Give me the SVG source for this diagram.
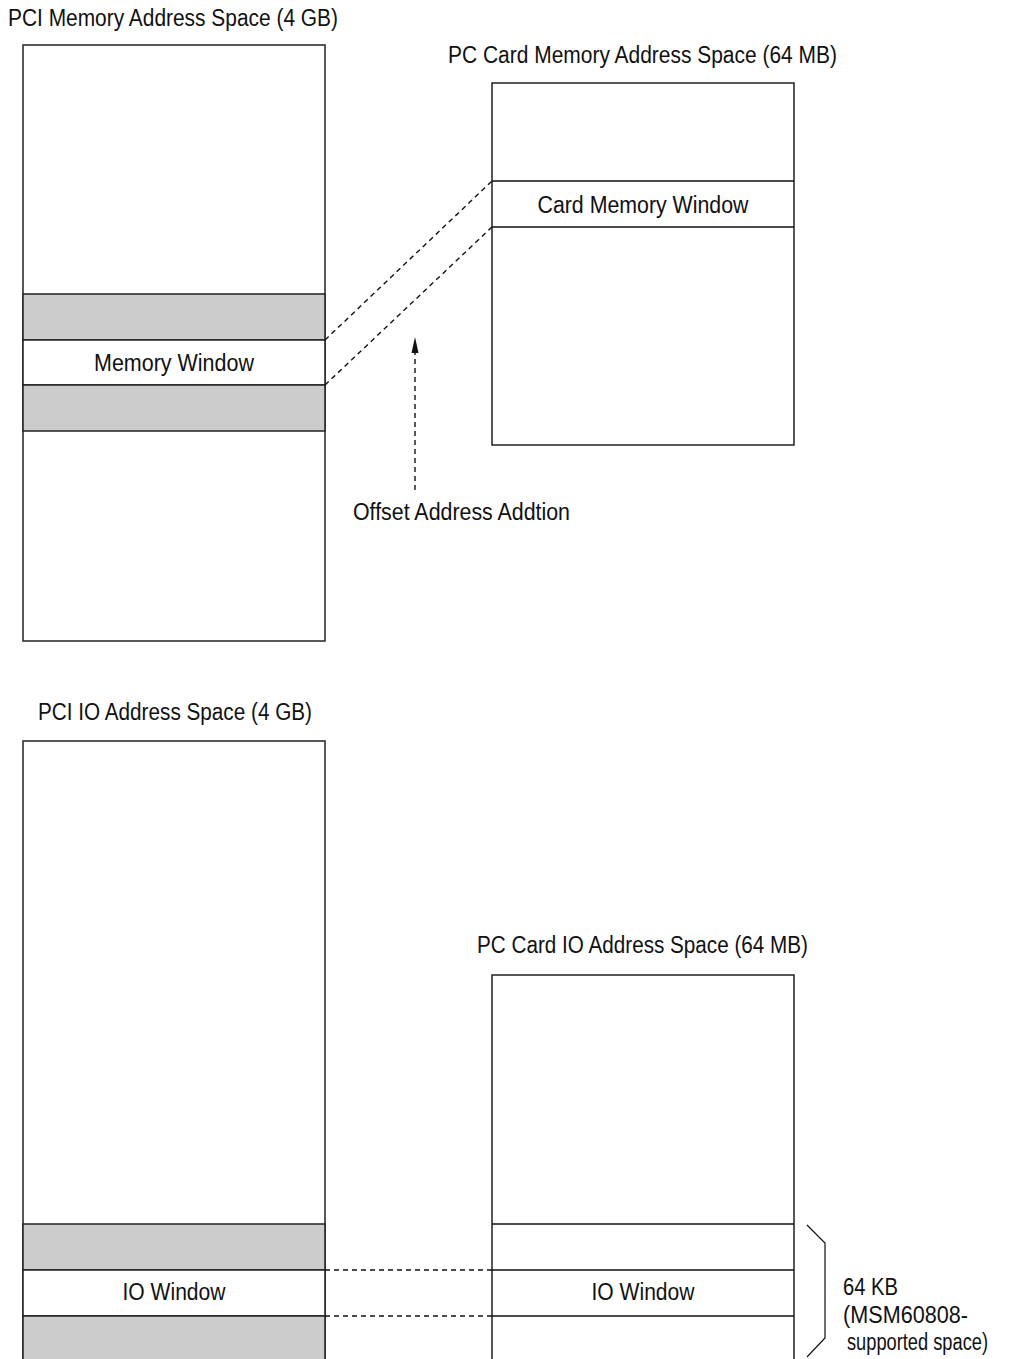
<svg xmlns="http://www.w3.org/2000/svg" width="1023" height="1359" viewBox="0 0 1023 1359">
<defs>
<style>
.t{font-family:"Liberation Sans",Arial,sans-serif;font-size:23.5px;fill:#111;}
.c{text-anchor:middle;}
.box{fill:#fff;stroke:#222;stroke-width:1.5;}
.gray{fill:#cccccc;stroke:#222;stroke-width:1.5;}
.ln{stroke:#111;stroke-width:1.5;fill:none;}
.dash{stroke:#111;stroke-width:1.4;stroke-dasharray:5,4;fill:none;}
</style>
</defs>
<rect width="1023" height="1359" fill="#fff"/>

<g id="pci-mem">
<text class="t" x="8" y="26" textLength="330" lengthAdjust="spacingAndGlyphs">PCI Memory Address Space (4 GB)</text>
<rect class="box" x="23" y="45" width="302" height="596"/>
<rect class="gray" x="23" y="294" width="302" height="46"/>
<rect class="box" x="23" y="340" width="302" height="45"/>
<rect class="gray" x="23" y="385" width="302" height="46"/>
<text class="t c" x="174" y="371" textLength="160" lengthAdjust="spacingAndGlyphs">Memory Window</text>
</g>

<g id="card-mem">
<text class="t" x="448" y="63" textLength="389" lengthAdjust="spacingAndGlyphs">PC Card Memory Address Space (64 MB)</text>
<rect class="box" x="492" y="83" width="302" height="362"/>
<line class="ln" x1="492" y1="181" x2="794" y2="181"/>
<line class="ln" x1="492" y1="227" x2="794" y2="227"/>
<text class="t c" x="643" y="213" textLength="211" lengthAdjust="spacingAndGlyphs">Card Memory Window</text>
</g>

<g id="offset-label">
<text class="t" x="353" y="520" textLength="217" lengthAdjust="spacingAndGlyphs">Offset Address Addtion</text>
</g>

<g id="pci-io">
<text class="t" x="38" y="720" textLength="274" lengthAdjust="spacingAndGlyphs">PCI IO Address Space (4 GB)</text>
<rect class="box" x="23" y="741" width="302" height="640"/>
<rect class="gray" x="23" y="1224" width="302" height="46"/>
<rect class="box" x="23" y="1270" width="302" height="46"/>
<rect class="gray" x="23" y="1316" width="302" height="65"/>
<text class="t c" x="174" y="1300" textLength="103" lengthAdjust="spacingAndGlyphs">IO Window</text>
</g>

<g id="card-io">
<text class="t" x="477" y="953" textLength="331" lengthAdjust="spacingAndGlyphs">PC Card IO Address Space (64 MB)</text>
<rect class="box" x="492" y="975" width="302" height="406"/>
<line class="ln" x1="492" y1="1224" x2="794" y2="1224"/>
<line class="ln" x1="492" y1="1270" x2="794" y2="1270"/>
<line class="ln" x1="492" y1="1316" x2="794" y2="1316"/>
<text class="t c" x="643" y="1300" textLength="103" lengthAdjust="spacingAndGlyphs">IO Window</text>
</g>

<g id="brace-label">
<polyline class="ln" points="807,1225 825,1243 825,1338 807,1357" style="stroke-width:1.2"/>
<text class="t" x="843" y="1295" textLength="55" lengthAdjust="spacingAndGlyphs">64 KB</text>
<text class="t" x="843" y="1323" textLength="125" lengthAdjust="spacingAndGlyphs">(MSM60808-</text>
<text class="t" x="847" y="1350" textLength="141" lengthAdjust="spacingAndGlyphs">supported space)</text>
</g>

<g id="connectors">
<line class="dash" x1="325" y1="340" x2="492" y2="181"/>
<line class="dash" x1="325" y1="385" x2="492" y2="227"/>
<line class="dash" x1="415" y1="490" x2="415" y2="352"/>
<polygon points="415,337 411.5,353 418.5,353" fill="#111"/>
<line class="dash" x1="325" y1="1270" x2="492" y2="1270"/>
<line class="dash" x1="325" y1="1316" x2="492" y2="1316"/>
</g>
</svg>
